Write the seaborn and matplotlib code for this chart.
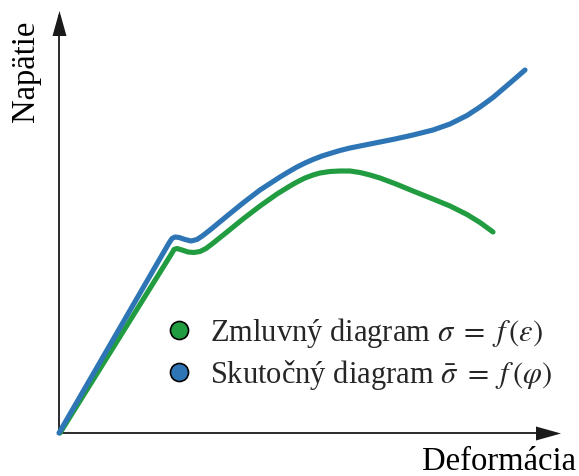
import numpy as np
import pandas as pd
import matplotlib
matplotlib.use("Agg")
import matplotlib.pyplot as plt
from matplotlib.lines import Line2D
import seaborn as sns

# Engineering (conventional) stress-strain curve: sigma = f(epsilon)
eng_strain = [1, 113, 115, 118, 123, 129, 135, 141, 147, 153, 168, 184, 201,
              218, 231, 238, 246, 254, 261, 271, 281, 291, 301, 311, 321, 337,
              354, 374, 391, 408, 421, 434]
eng_stress = [0, 180, 183.5, 184.5, 183, 181, 180.5, 181.5, 184.5, 189, 201,
              214, 227, 239, 247, 251, 255, 258, 260, 261.5, 262, 262, 260.5,
              258, 255, 249, 242, 234, 227, 218.5, 210.5, 201]

# True stress-strain curve: sigma_bar = f(phi)
true_strain = [0, 110, 113, 116, 120, 126, 132, 138, 144, 151, 168, 184, 201,
               221, 231, 238, 246, 254, 263, 271, 281, 291, 306, 321, 336, 354,
               374, 391, 408, 421, 434, 451, 466]
true_stress = [0, 190, 194.5, 196, 195.5, 193.5, 192, 193.5, 197.5, 203, 217,
               230, 243, 256, 262, 266, 270, 273.5, 277, 279.5, 282.5, 285,
               288, 291, 294, 298, 303, 309, 317.5, 326, 335.5, 350, 363]

series_labels = [r"Zmluvný diagram $\sigma\ =\ f\,(\varepsilon)$",
                 r"Skutočný diagram $\bar{\sigma}\ =\ f\,(\varphi)$"]
series_colors = ["#229c41", "#2e75b6"]

x_label = "Deformácia"
y_label = "Napätie"

df = pd.concat([
    pd.DataFrame({"strain": eng_strain, "stress": eng_stress,
                  "series": series_labels[0]}),
    pd.DataFrame({"strain": true_strain, "stress": true_stress,
                  "series": series_labels[1]}),
])

sns.set_theme(style="white")
plt.rcParams["font.family"] = ["Liberation Serif", "DejaVu Serif"]
plt.rcParams["mathtext.fontset"] = "stix"

W, H, DPI = 579, 476, 100
fig = plt.figure(figsize=(W / DPI, H / DPI), dpi=DPI)
ax = fig.add_axes([0, 0, 1, 1])

# axis frame: one data unit per pixel, origin placed inside the canvas
x0, y0 = 59, 433
ax.set_xlim(-x0, W - x0)
ax.set_ylim(y0 - H, y0)
ax.axis("off")

sns.lineplot(data=df, x="strain", y="stress", hue="series", units="series",
             estimator=None, sort=False, palette=series_colors, legend=False,
             linewidth=3.7, ax=ax, zorder=3,
             solid_capstyle="round", solid_joinstyle="round")

# arrowed coordinate axes
axis_color = "#1a1a1a"
x_tip = 501
y_tip = 423
head_len = 25
head_pt = head_len * 72 / DPI
ax.plot([0, x_tip - 5], [0, 0], color=axis_color, lw=1.3, zorder=2,
        solid_capstyle="butt")
ax.plot([0, 0], [0, y_tip - 5], color=axis_color, lw=1.3, zorder=2,
        solid_capstyle="butt")
up_head = [(0, 0.5), (-0.28, -0.5), (0.28, -0.5), (0, 0.5)]
right_head = [(0.5, 0), (-0.5, 0.28), (-0.5, -0.28), (0.5, 0)]
ax.plot([0], [y_tip - head_len / 2], marker=up_head, markersize=head_pt,
        color=axis_color, markeredgewidth=0, zorder=2)
ax.plot([x_tip - head_len / 2], [0], marker=right_head, markersize=head_pt,
        color=axis_color, markeredgewidth=0, zorder=2)

ax.text(26 / W, 1 - 71 / H, y_label, transform=ax.transAxes, rotation=90,
        ha="center", va="center", fontsize=23.5, color="black")
ax.text(499 / W, 1 - 470 / H, x_label, transform=ax.transAxes,
        ha="center", va="baseline", fontsize=23.5, color="black")

handles = [Line2D([], [], linestyle="", marker="o", markersize=13,
                  markerfacecolor=c, markeredgecolor="black",
                  markeredgewidth=1.2) for c in series_colors]
ax.legend(handles, series_labels, loc="center left",
          bbox_to_anchor=(164 / W, 1 - 354 / H), bbox_transform=fig.transFigure,
          frameon=False, fontsize=22, handlelength=1.0, handletextpad=0.5,
          labelspacing=0.25, borderpad=0, borderaxespad=0)

fig.savefig("out.png", dpi=DPI)
